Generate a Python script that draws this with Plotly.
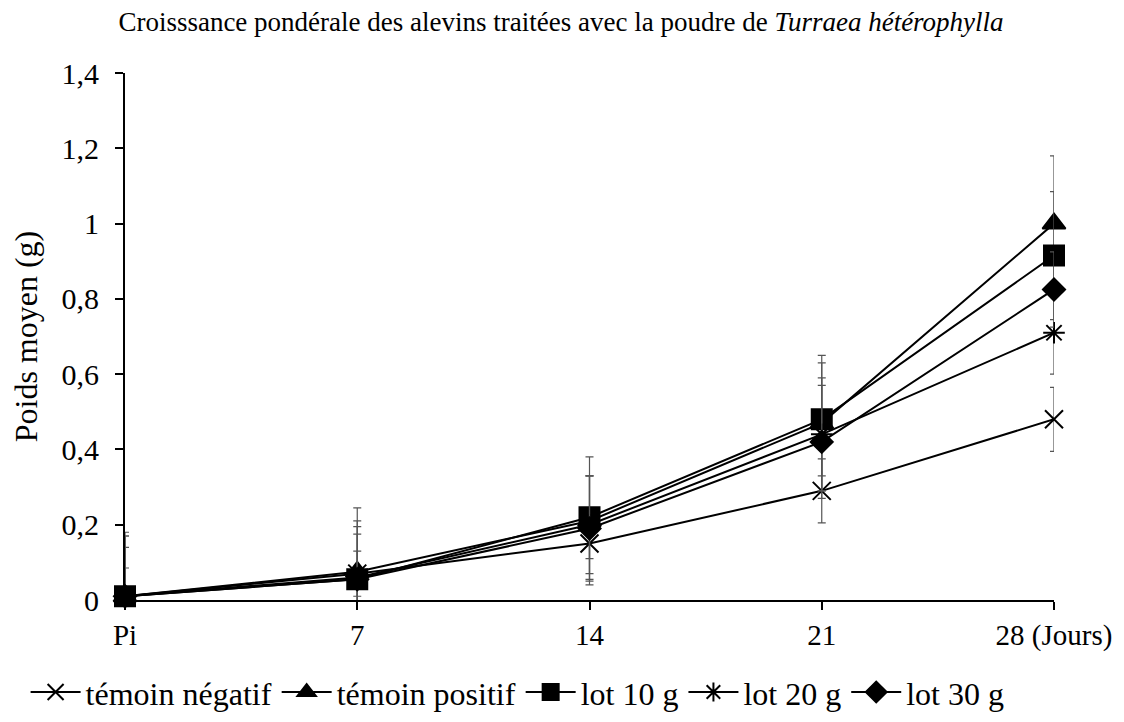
import plotly.graph_objects as go

days = [0, 7, 14, 21, 28]
day_labels = ["Pi", "7", "14", "21", "28 (Jours)"]

series_names = ["témoin négatif", "témoin positif", "lot 10 g", "lot 20 g", "lot 30 g"]
temoin_negatif = [0.01, 0.070, 0.150, 0.290, 0.480]
temoin_positif = [0.01, 0.075, 0.210, 0.470, 1.000]
lot_10g = [0.01, 0.055, 0.220, 0.480, 0.915]
lot_20g = [0.01, 0.060, 0.200, 0.440, 0.710]
lot_30g = [0.01, 0.055, 0.190, 0.420, 0.825]

err_negatif = [0.075, 0.060, 0.095, 0.085, 0.085]
err_positif = [0.170, 0.135, 0.170, 0.180, 0.180]
err_10g = [0.160, 0.190, 0.110, 0.150, 0.170]
err_20g = [0.160, 0.135, 0.130, 0.150, 0.110]
err_30g = [0.130, 0.120, 0.140, 0.150, 0.100]

y_ticks = [0, 0.2, 0.4, 0.6, 0.8, 1.0, 1.2, 1.4]
y_ticktext = ["0", "0,2", "0,4", "0,6", "0,8", "1", "1,2", "1,4"]

values = [temoin_negatif, temoin_positif, lot_10g, lot_20g, lot_30g]
errors = [err_negatif, err_positif, err_10g, err_20g, err_30g]
symbols = ["x-thin-open", "triangle-up", "square", "asterisk-open", "diamond"]
sizes = [18, 20, 20, 18, 17]

FONT = "Liberation Serif"

fig = go.Figure()
for name, v, e, sym, sz in zip(series_names, values, errors, symbols, sizes):
    fig.add_trace(go.Scatter(
        x=days, y=v, name=name, mode="lines+markers",
        line=dict(color="black", width=2),
        marker=dict(symbol=sym, size=sz, color="black",
                    line=dict(color="black", width=2)),
        error_y=dict(type="data", array=e, visible=True,
                     color="#555555", thickness=1.2, width=4),
        cliponaxis=False,
    ))

fig.update_layout(
    width=1124, height=722,
    margin=dict(l=117, r=78, t=65, b=130, autoexpand=False),
    paper_bgcolor="white", plot_bgcolor="white",
    font=dict(family=FONT, color="black", size=30),
    title=dict(text="Croisssance pondérale des alevins traitées avec la poudre de <i>Turraea hétérophylla</i>",
               x=0.492, xanchor="center", y=0.981, yanchor="middle",
               font=dict(family=FONT, size=27, color="black")),
    showlegend=True,
    legend=dict(orientation="h", x=-0.107, xanchor="left",
                y=-0.175, yanchor="middle",
                font=dict(family=FONT, size=32), itemwidth=50,
                tracegroupgap=0),
)
fig.update_xaxes(
    range=[0, 28], tickvals=days, ticktext=day_labels,
    showgrid=False, zeroline=False,
    showline=True, linecolor="black", linewidth=2,
    ticks="outside", ticklen=8, tickcolor="black", tickwidth=2,
    tickfont=dict(family=FONT, size=29),
)
fig.update_yaxes(
    range=[0, 1.4], tickvals=y_ticks, ticktext=y_ticktext,
    showgrid=False, zeroline=False,
    showline=True, linecolor="black", linewidth=2,
    ticks="outside", ticklen=8, tickcolor="black", tickwidth=2,
    ticklabelstandoff=10,
    tickfont=dict(family=FONT, size=30),
    title=dict(text="Poids moyen (g)", font=dict(family=FONT, size=32), standoff=17),
)

fig.write_html("out.html")
